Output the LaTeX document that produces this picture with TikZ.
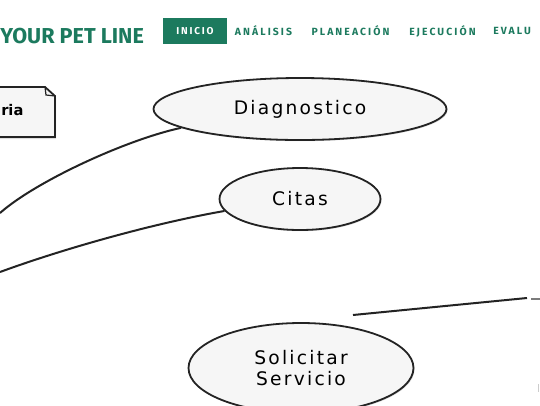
\documentclass[tikz,border=0pt]{standalone}
\usepackage{fontspec}
\setmainfont{Fira Sans}
\newfontfamily\hand[LetterSpace=12]{DejaVu Sans}
\newfontfamily\handnote{DejaVu Sans}
\usetikzlibrary{shapes.geometric,shadows}
\definecolor{teal1}{RGB}{28,122,94}
\definecolor{ink}{RGB}{35,35,35}
\tikzset{
 usecase/.style={ellipse, draw=ink, line width=1.35pt, fill=gray!7, inner sep=0pt,
   font=\hand\fontsize{14}{16}\selectfont, align=center,
   drop shadow={shadow xshift=0.8pt, shadow yshift=-0.9pt, fill=gray!45, opacity=0.6}},
 wire/.style={draw=ink, line width=1.5pt},
 menu/.style={font=\bfseries\fontsize{7.8}{9}\selectfont\addfontfeature{LetterSpace=20}, text=teal1, inner sep=0pt},
}
\begin{document}
\begin{tikzpicture}[x=0.75pt,y=-0.75pt]
\useasboundingbox (0,0) rectangle (540,405);
\clip (0,0) rectangle (540,405);
% header
\node[anchor=west, font=\bfseries\fontsize{16.2}{19}\selectfont, text=teal1, inner sep=0pt] (brand) at (0,36) {YOUR PET LINE};
\node[fill=teal1, minimum width=48pt, minimum height=19.5pt, inner sep=0pt, text=white,
      font=\bfseries\fontsize{7.5}{9}\selectfont\addfontfeature{LetterSpace=18}] (inicio) at (195,31) {INICIO};
\node[menu] (analisis) at (263.5,31) {ANÁLISIS};
\node[menu] (planeacion) at (350.5,31) {PLANEACIÓN};
\node[menu] (ejecucion) at (442.5,31) {EJECUCIÓN};
\node[menu, anchor=west] (evalu) at (493,31) {EVALU};
% note box
\fill[gray!45, opacity=0.6] (-10,89) -- (46,89) -- (56,98) -- (56,139) -- (-10,139) -- cycle;
\draw[ink, line width=1.35pt, fill=gray!7] (-10,87) -- (45,87) -- (55,96) -- (55,137) -- (-10,137) -- cycle;
\draw[ink, line width=0.9pt] (45,87) -- (46,95) -- (55,96);
\node[font=\handnote\bfseries\fontsize{11}{13}\selectfont, anchor=west, inner sep=0pt] (note) at (1,110) {ria};
% use cases
\node[usecase, minimum width=219.75pt, minimum height=46.5pt] (diag) at (300,109) {Diagnostico};
\node[usecase, minimum width=120.75pt, minimum height=46.5pt] (citas) at (300,199) {Citas};
\node[usecase, minimum width=168.75pt, minimum height=67.5pt] (solic) at (301,368) {Solicitar\\Servicio};
% connectors
\coordinate (e1) at (0,213);
\coordinate (e2) at (0,272);
\coordinate (r1) at (353,315);
\coordinate (r2) at (527,298);
\coordinate (r3) at (531,299);
\coordinate (r4) at (541,299);
\draw[wire] (diag.189) .. controls (125,140) and (35,182) .. (e1);
\draw[wire] (citas.189) .. controls (150,224) and (60,250) .. (e2);
\draw[wire] (r1) -- (r2);
\draw[wire, draw=ink!60, line width=0.9pt] (r3) -- (r4);
\draw[gray!40, line width=0.6pt] (538,384) -- (538,392);
\end{tikzpicture}
\end{document}
